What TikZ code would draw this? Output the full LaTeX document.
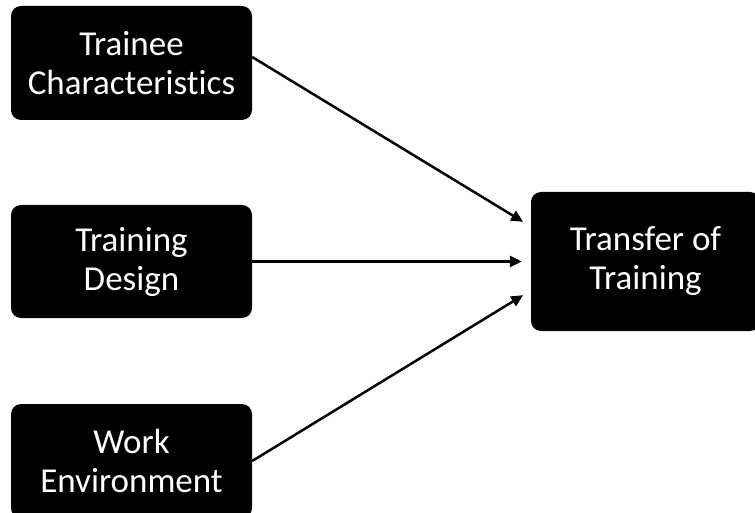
\documentclass[tikz,border=0pt]{standalone}
\usepackage{fontspec}
\setmainfont[Ligatures={NoCommon,NoContextual}]{Carlito}
\usetikzlibrary{arrows.meta}
\begin{document}
\begin{tikzpicture}[x=1pt,y=-1pt,
	factor/.style={rectangle,rounded corners=10pt,fill=black,text=white,align=center,font=\fontsize{35}{39}\selectfont,inner sep=0pt},
	link/.style={black,line width=2.5pt,-{Triangle[length=12pt,width=11pt]},shorten >=9pt}]
	\useasboundingbox (0,0) rectangle (755,513);
	\node[factor,minimum width=241pt,minimum height=114pt](trainee) at (131.5,63){Trainee\\Characteristics};
	\node[factor,minimum width=241pt,minimum height=113pt](design) at (131.5,261.5){Training\\Design};
	\node[factor,minimum width=241pt,minimum height=114pt](work) at (131.5,461){Work\\Environment};
	\node[factor,minimum width=229pt,minimum height=139pt](transfer) at (645.5,261.5){Transfer of\\Training};
	\draw[link]([yshift=6pt]trainee.east)--([yshift=35pt]transfer.west);
	\draw[link](design.east)--(transfer.west);
	\draw[link](work.east)--([yshift=-29pt]transfer.west);
\end{tikzpicture}
\end{document}
